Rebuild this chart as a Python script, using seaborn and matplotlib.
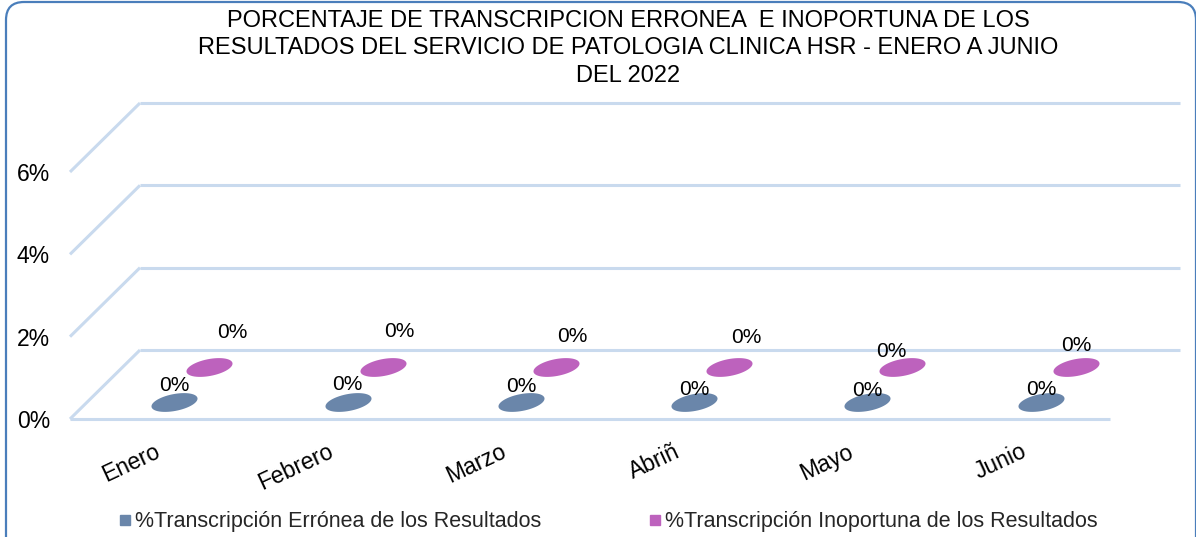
import numpy as np
import pandas as pd
import matplotlib
matplotlib.use("Agg")
import matplotlib.pyplot as plt
from matplotlib.path import Path
from matplotlib.patches import FancyBboxPatch
from matplotlib.lines import Line2D
import matplotlib.transforms as mtransforms
import seaborn as sns

# ---------------- data ----------------
meses = ["Enero", "Febrero", "Marzo", "Abriñ", "Mayo", "Junio"]
erronea = [0, 0, 0, 0, 0, 0]
inoportuna = [0, 0, 0, 0, 0, 0]
serie_names = ["%Transcripción Errónea de los Resultados",
               "%Transcripción Inoportuna de los Resultados"]
y_ticks = [0, 2, 4, 6]
y_ticklabels = ["0%", "2%", "4%", "6%"]
titulo = ("PORCENTAJE DE TRANSCRIPCION ERRONEA  E INOPORTUNA DE LOS\n"
          "RESULTADOS DEL SERVICIO DE PATOLOGIA CLINICA HSR - ENERO A JUNIO\n"
          "DEL 2022")

# ---------------- style ----------------
sns.set_theme(style="white")
plt.rcParams["font.family"] = ["Liberation Sans", "DejaVu Sans"]

W, H, DPI = 1196, 537, 100
fig = plt.figure(figsize=(W / DPI, H / DPI), dpi=DPI)
ax = fig.add_axes([70 / W, 118 / H, 1040 / W, 247 / H])
ax.set_xlim(-0.5, len(meses) - 0.5)
ax.set_ylim(0, 6)
for s in ax.spines.values():
    s.set_visible(False)
ax.set_facecolor("none")

grid_col = "#c9daee"
blue = "#6a86aa"
pink = "#bd62bd"

# depth offset (perspective) in pixels, converted to inches
depth_px = (70, 69)
def depth_tr(frac):
    return ax.transData + mtransforms.ScaledTranslation(
        depth_px[0] * frac / DPI, depth_px[1] * frac / DPI, fig.dpi_scale_trans)

back = depth_tr(1.0)
x0, x1 = -0.5, len(meses) - 0.5
ddx = depth_px[0] / (1040 / (x1 - x0))
ddy = depth_px[1] / (247 / 6)
for v in y_ticks:
    ax.plot([x0, x1], [v, v], color=grid_col, lw=2.2, transform=back,
            clip_on=False, solid_capstyle="butt")
    ax.plot([x0, x0 + ddx], [v, v + ddy], color=grid_col, lw=2.2,
            clip_on=False, solid_capstyle="butt")
ax.plot([x0, x1], [0, 0], color=grid_col, lw=2.2, clip_on=False,
        solid_capstyle="butt")

# ellipse marker
t = np.linspace(0, 2 * np.pi, 60)
ex, ey = np.cos(t), 0.36 * np.sin(t)
ang = np.deg2rad(11)
vx = ex * np.cos(ang) - ey * np.sin(ang)
vy = ex * np.sin(ang) + ey * np.cos(ang)
ell = Path(np.column_stack([vx, vy]), closed=True)

df = pd.DataFrame({"mes": np.arange(len(meses)), "erronea": erronea,
                   "inoportuna": inoportuna})

sns.scatterplot(data=df, x="mes", y="erronea", ax=ax, marker=ell, s=1100,
                color=blue, linewidth=0, transform=depth_tr(0.25),
                clip_on=False, legend=False)
sns.scatterplot(data=df, x="mes", y="inoportuna", ax=ax, marker=ell, s=1100,
                color=pink, linewidth=0, transform=depth_tr(0.75),
                clip_on=False, legend=False)
ax.set_xlabel("")
ax.set_ylabel("")

# data labels
blue_off = [(0, 16), (0, 17), (0, 15), (0, 12), (0, 11), (0, 12)]
pink_off = [(23, 35), (17, 36), (16, 31), (17, 30), (-11, 16), (0, 22)]
for i, v in enumerate(erronea):
    tr = depth_tr(0.25) + mtransforms.ScaledTranslation(
        blue_off[i][0] / DPI, blue_off[i][1] / DPI, fig.dpi_scale_trans)
    ax.text(i, v, f"{v:.0f}%", transform=tr, ha="center", va="center",
            fontsize=15, color="black", clip_on=False)
for i, v in enumerate(inoportuna):
    tr = depth_tr(0.75) + mtransforms.ScaledTranslation(
        pink_off[i][0] / DPI, pink_off[i][1] / DPI, fig.dpi_scale_trans)
    ax.text(i, v, f"{v:.0f}%", transform=tr, ha="center", va="center",
            fontsize=15, color="black", clip_on=False)

# y ticks
ax.set_yticks(y_ticks)
ax.set_yticklabels(y_ticklabels, fontsize=16.5, color="black")
ax.tick_params(axis="y", length=0, pad=14.4)
ax.set_xticks([])

# x labels (rotated)
xl_tr = ax.transData + mtransforms.ScaledTranslation(-3 / DPI, -21 / DPI,
                                                     fig.dpi_scale_trans)
for i, m in enumerate(meses):
    ax.text(i, 0, m, transform=xl_tr, rotation=25, rotation_mode="anchor",
            ha="right", va="top", fontsize=16.5, clip_on=False, color="black")

# title
fig.text(628 / W, 1 - 48.5 / H, titulo, ha="center", va="center",
         fontsize=17, multialignment="center", linespacing=1.31, color="black")

# legend
handles = [Line2D([], [], marker="s", ls="", color=blue, markersize=7.5),
           Line2D([], [], marker="s", ls="", color=pink, markersize=7.5)]
fig.legend(handles, serie_names, loc="center", ncol=2,
           bbox_to_anchor=(608 / W, 1 - 522 / H), frameon=False, fontsize=15.5,
           handlelength=0.6, handletextpad=0.15, columnspacing=5.0)

# rounded border
border = FancyBboxPatch((6 / DPI, -20 / DPI), (1196 - 6) / DPI, (535 + 20) / DPI,
                        boxstyle="round,pad=0,rounding_size=0.18",
                        transform=fig.dpi_scale_trans, fill=False,
                        edgecolor="#4a7ebb", lw=1.6, clip_on=False)
fig.patches.append(border)

fig.savefig("out.png", dpi=DPI)
